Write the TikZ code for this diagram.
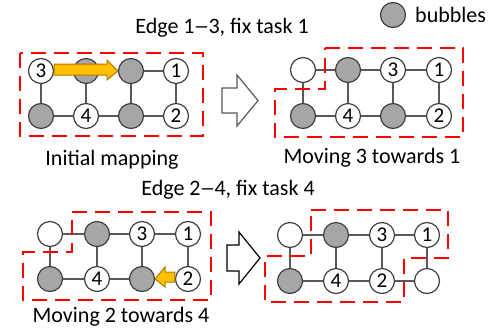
\documentclass[tikz,border=0pt]{standalone}
\usepackage{fontspec}
\usepackage{graphicx}
\setmainfont{Carlito}
\definecolor{bubgray}{HTML}{A6A6A6}
\definecolor{edgegray}{HTML}{595959}
\definecolor{ringgray}{HTML}{404040}
\definecolor{gold}{HTML}{FFC000}
\definecolor{goldline}{HTML}{B07800}
\newcommand{\shortdash}{\scalebox{0.7}[1]{—}}
\tikzset{
  task/.style={circle, draw=ringgray, line width=1.2pt, fill=white, minimum size=25pt, inner sep=0pt, font=\fontsize{21}{21}\selectfont},
  bubble/.style={task, fill=bubgray},
  link/.style={draw=edgegray, line width=1.2pt},
  region/.style={draw=red, line width=2.6pt, dash pattern=on 15pt off 8pt, line join=miter},
  caption/.style={font=\fontsize{22}{26}\selectfont, inner sep=0pt},
  movearrow/.style={fill=gold, draw=goldline, line width=1pt, line join=miter},
  steparrow/.style={fill=white, line width=1.2pt, line join=miter},
}
\begin{document}
\begin{tikzpicture}[x=1pt,y=-1pt]
\useasboundingbox (0,0) rectangle (499,333);
% top-left grid
\node[task]   (a1) at (41,71) {3};
\node[bubble] (a2) at (86,71) {};
\node[bubble] (a3) at (131,71) {};
\node[task]   (a4) at (176,71) {1};
\node[bubble] (a5) at (41,116) {};
\node[task]   (a6) at (86,116) {4};
\node[bubble] (a7) at (131,116) {};
\node[task]   (a8) at (176,116) {2};
% top-right grid
\node[task]   (b1) at (303,70) {};
\node[bubble] (b2) at (348,70) {};
\node[task]   (b3) at (393,70) {3};
\node[task]   (b4) at (439,70) {1};
\node[bubble] (b5) at (303,116) {};
\node[task]   (b6) at (348,116) {4};
\node[bubble] (b7) at (393,116) {};
\node[task]   (b8) at (439,116) {2};
% bottom-left grid
\node[task]   (c1) at (50,234) {};
\node[bubble] (c2) at (97,234) {};
\node[task]   (c3) at (142,234) {3};
\node[task]   (c4) at (188,234) {1};
\node[bubble] (c5) at (50,279) {};
\node[task]   (c6) at (97,279) {4};
\node[bubble] (c7) at (142,279) {};
\node[task]   (c8) at (188,279) {2};
% bottom-right grid
\node[task]   (d1) at (290,235) {};
\node[bubble] (d2) at (336,235) {};
\node[task]   (d3) at (382,235) {3};
\node[task]   (d4) at (427,235) {1};
\node[bubble] (d5) at (290,281) {};
\node[task]   (d6) at (336,281) {4};
\node[task]   (d7) at (382,281) {2};
\node[task]   (d8) at (427,281) {};
% links
\foreach \p in {a,b,c,d}{
  \foreach \u/\v in {1/2,2/3,3/4,5/6,6/7,7/8,1/5,2/6,3/7,4/8}{
    \draw[link] (\p\u) -- (\p\v);
  }
}
% dashed regions
\draw[region] (20,53) rectangle (203,136);
\draw[region] (325,48) -- (463,48) -- (463,137) -- (275,137) -- (275,89) -- (325,89) -- cycle;
\draw[region] (72,212) -- (211,212) -- (211,300) -- (23,300) -- (23,252) -- (72,252) -- cycle;
\draw[region] (311,210) -- (448,210) -- (448,258) -- (404,258) -- (404,302) -- (265,302) -- (265,256) -- (311,256) -- cycle;
% move arrows
\draw[movearrow] (a1.east |- 0,64) -- (107,64) -- (107,60) -- (a3.west) -- (107,80) -- (107,75) -- (a1.east |- 0,75) -- cycle;
\draw[movearrow] (c8.west |- 0,272) -- (165,272) -- (165,267) -- (c7.east) -- (165,287) -- (165,282) -- (c8.west |- 0,282) -- cycle;
% step arrows
\draw[steparrow, draw=edgegray] (222,88) -- (237,88) -- (237,75) -- (258,100.5) -- (237,126) -- (237,113) -- (222,113) -- cycle;
\draw[steparrow, draw=black] (227,245) -- (239,245) -- (239,232) -- (260,258) -- (239,284) -- (239,271) -- (227,271) -- cycle;
% texts
\node[caption] (t1) at (222,28) {Edge 1\shortdash3, fix task 1};
\node[caption] (t2) at (112,160) {Initial mapping};
\node[caption] (t3) at (372,158) {Moving 3 towards 1};
\node[caption] (t4) at (228,190) {Edge 2\shortdash4, fix task 4};
\node[caption] (t5) at (121,317) {Moving 2 towards 4};
\node[bubble] (leg) at (393,15) {};
\node[caption, anchor=west] (t6) at (415,15) {bubbles};
\end{tikzpicture}
\end{document}
